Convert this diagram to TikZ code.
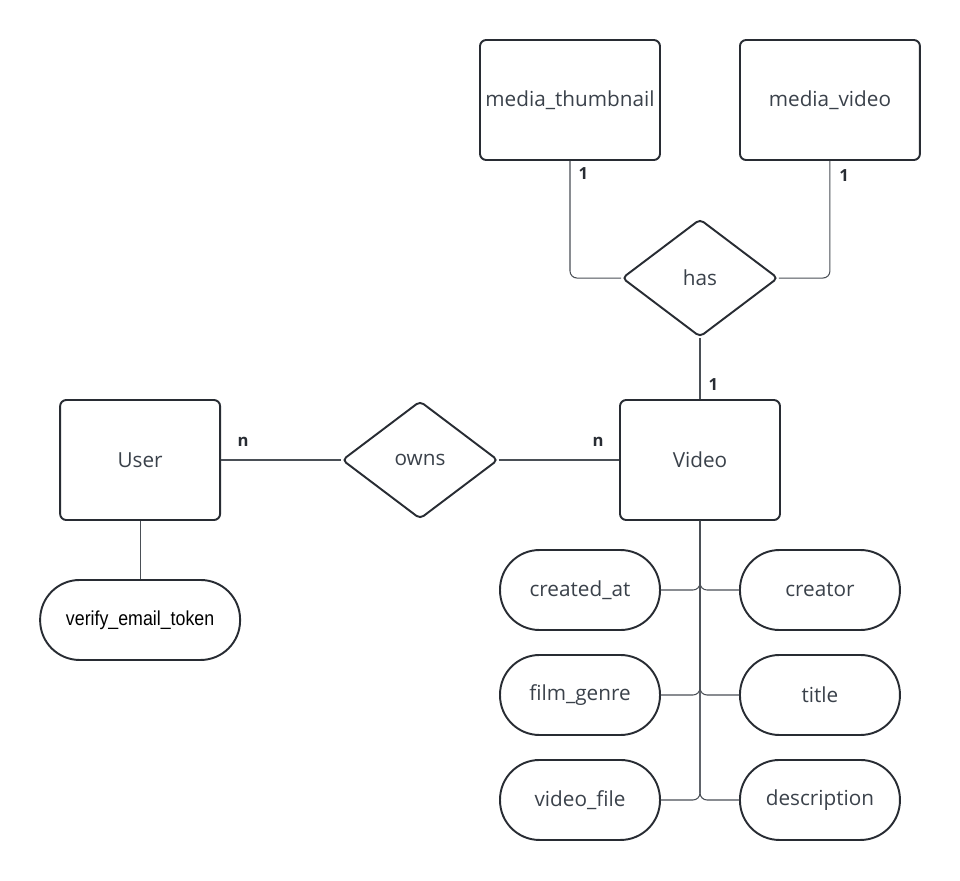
\documentclass[tikz,border=0pt]{standalone}
\usepackage{fontspec}
\setmainfont{Open Sans}
\newfontfamily\arialfont[FakeStretch=0.88]{Liberation Sans}
\usetikzlibrary{shapes.geometric,positioning}

\definecolor{ink}{HTML}{3A414A}
\definecolor{edgeline}{HTML}{282C33}
\definecolor{wire}{HTML}{4A4F56}

\begin{document}
\begin{tikzpicture}[x=0.02cm,y=-0.02cm,node distance=5.6cm,
                    font=\fontsize{11.8}{14}\selectfont,text=ink]
  \tikzstyle{entity}=[draw=edgeline,line width=1.1pt,rounded corners=3.5pt,
                      minimum width=3.2cm,minimum height=2.4cm,inner sep=0pt]
  \tikzstyle{relation}=[diamond,draw=edgeline,line width=1.1pt,rounded corners=2.5pt,
                        minimum width=3.12cm,minimum height=2.36cm,inner sep=0pt]
  \tikzstyle{attribute}=[draw=edgeline,line width=1.1pt,rounded corners=0.79cm,
                         minimum width=3.2cm,minimum height=1.6cm,inner sep=0pt]
  \tikzstyle{wire}=[draw=wire,line width=0.6pt,rounded corners=4pt]
  \tikzstyle{card}=[inner sep=0pt,font=\bfseries\fontsize{9.5}{11}\selectfont,text=edgeline]

  \useasboundingbox (0,0) rectangle (960,880);

  \node[entity]    (Video)   at (700,460)                            {Video};
  \node[relation]  (owns)    [left of=Video]                         {owns};
  \node[entity]    (User)    [left of=owns]                          {User};
  \node[relation]  (has)     [above of=Video,node distance=3.64cm]   {has};
  \node[entity,minimum width=3.6cm] (thumb)  at (570,100)            {media\_thumbnail};
  \node[entity,minimum width=3.6cm] (mvideo) [right of=thumb,node distance=5.2cm] {media\_video};

  \node[attribute,minimum width=4cm,text=black,font=\arialfont\fontsize{11.5}{13}\selectfont]
                   (token)   [below of=User,node distance=3.2cm]     {verify\_email\_token};

  \node[attribute] (created) at (580,590)                            {created\_at};
  \node[attribute] (genre)   [below of=created,node distance=2.1cm]  {film\_genre};
  \node[attribute] (vfile)   [below of=genre,node distance=2.1cm]    {video\_file};
  \node[attribute] (creator) [right of=created,node distance=4.8cm]  {creator};
  \node[attribute] (title)   [right of=genre,node distance=4.8cm]    {title};
  \node[attribute] (desc)    [right of=vfile,node distance=4.8cm]    {description};

  % relationships
  \draw[wire] (User.east) -- node[card,pos=0,anchor=south west,shift={(0.32cm,0.26cm)}] {n} (owns.west);
  \draw[wire] (owns.east) -- node[card,pos=1,anchor=south east,shift={(-0.3cm,0.26cm)}] {n} (Video.west);
  \draw[wire] (thumb.south) |- node[card,pos=0,anchor=north west,shift={(0.16cm,-0.12cm)}] {1} (has.west);
  \draw[wire] (mvideo.south) |- node[card,pos=0,anchor=north west,shift={(0.18cm,-0.16cm)}] {1} (has.east);
  \draw[wire] (has.south) -- node[card,pos=1,anchor=south west,shift={(0.16cm,0.16cm)}] {1} (Video.north);

  % attributes
  \draw[wire] (User.south) -- (token.north);
  \foreach \a in {created,genre,vfile}
    \draw[wire] (\a.east) -| (Video.south);
  \foreach \a in {creator,title,desc}
    \draw[wire] (\a.west) -| (Video.south);
\end{tikzpicture}
\end{document}
